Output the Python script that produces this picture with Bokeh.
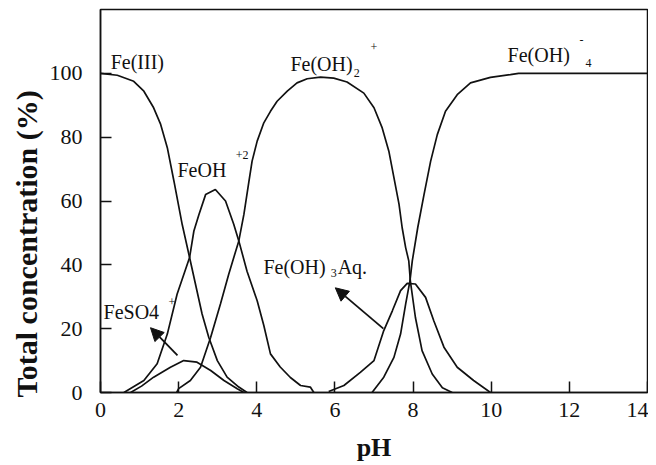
from bokeh.plotting import figure
from bokeh.models import Range1d, Label, Arrow, NormalHead, FixedTicker, Title
from bokeh.embed import file_html
from bokeh.resources import INLINE

# ---- data ----
fe3_ph = [0, 0.43, 0.85, 1.11, 1.36, 1.54, 1.71, 1.88, 2.09, 2.28, 2.43, 2.6, 2.77, 2.99, 3.24, 3.54, 3.75]
fe3_y = [100, 99.4, 97.5, 94.4, 89.2, 84, 76.7, 66.2, 52.7, 42.3, 34, 24.6, 17.3, 10, 4.8, 1.7, 0]

feoh_ph = [0.6, 1.11, 1.45, 1.71, 1.96, 2.28, 2.39, 2.52, 2.69, 2.94, 3.2, 3.41, 3.54, 3.75, 4.01, 4.18, 4.35, 4.6, 4.86, 5.12, 5.37, 5.46]
feoh_y = [0, 3.75, 9, 18.3, 30.8, 42.3, 50.6, 55.8, 62, 63.6, 60, 52.7, 47.5, 38, 28.75, 21, 12.1, 8, 4.7, 2.2, 1.7, 0]

feoh2_ph = [1.95, 2.0, 2.3, 2.56, 2.82, 3.07, 3.28, 3.54, 3.67, 3.8, 3.88, 4.01, 4.18, 4.35, 4.52, 4.78, 5.03, 5.29,
            5.63, 5.97, 6.31, 6.74, 7.0, 7.21, 7.38, 7.51, 7.64, 7.72, 7.81, 7.89, 7.93, 8.06, 8.23, 8.49, 8.75, 9.0]
feoh2_y = [0, 1.2, 3.75, 7.9, 17.3, 27.7, 37, 47.5, 55.8, 66.25, 72.5, 78.75, 84.5, 88.1, 91.25, 94.4, 97, 98.3,
           98.8, 98.5, 97.3, 93.8, 89.2, 82.9, 75.6, 67.3, 59, 51.7, 45.4, 41.25, 35, 23.5, 13.1, 5.8, 1.5, 0]

feoh3_ph = [5.84, 6.23, 6.65, 7.0, 7.25, 7.47, 7.68, 7.85, 8.06, 8.32, 8.53, 8.79, 9.13, 9.55, 9.98]
feoh3_y = [0.3, 2.2, 6.3, 10, 19.4, 25.6, 31.9, 34.2, 34, 29.8, 22.5, 14.2, 7.9, 3.75, 0]

feoh4_ph = [6.95, 7.25, 7.51, 7.68, 7.81, 7.92, 7.98, 8.12, 8.28, 8.45, 8.62, 8.83, 9.13, 9.47, 9.98, 10.49, 10.7, 14]
feoh4_y = [0, 4.8, 11, 18.3, 27.7, 35, 41.25, 51.7, 62, 72.5, 80.8, 88.1, 93.3, 97, 98.75, 99.6, 100, 100]

feso4_ph = [0.77, 1.05, 1.36, 1.79, 2.13, 2.47, 2.82, 3.16, 3.5, 3.67]
feso4_y = [0, 2, 4.8, 7.9, 10, 9.5, 6.9, 3.75, 1.2, 0]

x_ticks = [0, 2, 4, 6, 8, 10, 12, 14]
y_ticks = [0, 20, 40, 60, 80, 100]

SERIF = "Liberation Serif"
INK = "#111111"

p = figure(width=648, height=465, output_backend="svg", toolbar_location=None,
           x_range=Range1d(0, 14), y_range=Range1d(0, 120),
           min_border_left=100, min_border_right=1, min_border_top=9, min_border_bottom=73)
p.grid.visible = False
p.outline_line_color = INK
p.outline_line_width = 1.5
p.background_fill_color = "white"

for ax in (p.xaxis[0], p.yaxis[0]):
    ax.axis_line_color = INK
    ax.axis_line_width = 1.5
    ax.major_tick_in = 11
    ax.major_tick_out = 0
    ax.major_tick_line_color = INK
    ax.major_tick_line_width = 1.5
    ax.minor_tick_line_color = None
    ax.major_label_text_font = SERIF
    ax.major_label_text_font_size = "22px"
    ax.major_label_text_color = INK

p.xaxis[0].ticker = FixedTicker(ticks=x_ticks)
p.yaxis[0].ticker = FixedTicker(ticks=y_ticks)
p.xaxis[0].major_label_standoff = 10
p.yaxis[0].major_label_standoff = 18
p.xaxis[0].axis_label = "pH"
p.xaxis[0].axis_label_text_font = SERIF
p.xaxis[0].axis_label_text_font_style = "bold"
p.xaxis[0].axis_label_text_font_size = "26px"
p.xaxis[0].axis_label_text_color = INK
p.xaxis[0].axis_label_text_line_height = 1.0
p.xaxis[0].axis_label_standoff = 13

# y-axis title, starting just below the frame bottom as in the reference
p.add_layout(Title(text="Total concentration (%)", align="left", offset=-5, standoff=3,
                   vertical_align="top",
                   text_font=SERIF, text_font_style="bold", text_font_size="30px",
                   text_color=INK), "left")

for xs, ys in [(fe3_ph, fe3_y), (feoh_ph, feoh_y), (feoh2_ph, feoh2_y),
               (feoh3_ph, feoh3_y), (feoh4_ph, feoh4_y), (feso4_ph, feso4_y)]:
    p.line(xs, ys, line_color=INK, line_width=1.7)


def lab(x, y, t, size="20px"):
    p.add_layout(Label(x=x, y=y, text=t, text_font=SERIF, text_font_size=size,
                       text_color=INK, text_align="left", text_baseline="alphabetic"))


lab(0.26, 103.4, "Fe(III)")
lab(1.97, 69.7, "FeOH")
lab(3.46, 74.4, "+2", "12px")
lab(4.86, 102.8, "Fe(OH)")
lab(6.48, 100, "2", "12px")
lab(6.91, 108.1, "+", "12px")
lab(10.42, 105.6, "Fe(OH)")
lab(12.26, 110.3, "-", "12px")
lab(12.41, 103.1, "4", "12px")
lab(4.17, 39.4, "Fe(OH)")
lab(5.89, 37.5, "3", "12px")
lab(6.07, 39.4, "Aq.")
lab(0.077, 25.3, "FeSO4")
lab(1.74, 28.4, "+", "12px")

p.add_layout(Arrow(x_start=1.97, y_start=11.6, x_end=1.28, y_end=20.3,
                   line_color=INK, line_width=1.8,
                   end=NormalHead(size=13, fill_color=INK, line_color=INK)))
p.add_layout(Arrow(x_start=7.24, y_start=20, x_end=6.01, y_end=32.8,
                   line_color=INK, line_width=1.8,
                   end=NormalHead(size=13, fill_color=INK, line_color=INK)))

open("out.html", "w").write(file_html(p, INLINE))
